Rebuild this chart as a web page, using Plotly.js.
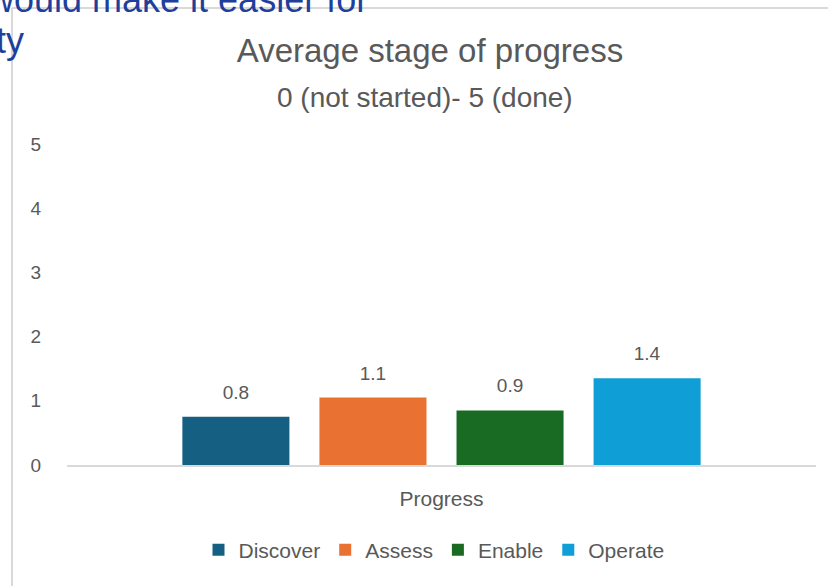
<!DOCTYPE html>
<html>
<head>
<meta charset="utf-8">
<script src="https://cdn.plot.ly/plotly-3.0.1.min.js"></script>
<style>
  html, body { margin: 0; padding: 0; background: #ffffff; }
  #chart { width: 828px; height: 586px; }
</style>
</head>
<body>
<div id="chart"></div>
<script>
// ---- data ----
const category = ["Progress"];
const seriesNames = ["Discover", "Assess", "Enable", "Operate"];
const seriesValues = [0.75, 1.05, 0.85, 1.35];
const seriesLabels = ["0.8", "1.1", "0.9", "1.4"];
const seriesColors = ["#156082", "#E97132", "#196B24", "#0F9ED5"];
const yTicks = [0, 1, 2, 3, 4, 5];

const chartTitle = "Average stage of progress";
const chartSubtitle = "0 (not started)- 5 (done)";
const behindText1 = "would make it easier for";
const behindText2 = "ty";

const FONT = "'Liberation Sans', Arial, sans-serif";
const GREY = "#595959";
const BLUE = "#1f3f9c";

const traces = seriesNames.map((name, i) => ({
  type: "bar",
  name: name,
  x: category,
  y: [seriesValues[i]],
  text: [seriesLabels[i]],
  texttemplate: "<span style='font-size:19px'>%{text}</span><br> ",
  textposition: "outside",
  textfont: { family: FONT, size: 10, color: GREY },
  cliponaxis: false,
  marker: { color: seriesColors[i] },
  hoverinfo: "skip"
}));

const layout = {
  width: 828,
  height: 586,
  margin: { l: 67, r: 12, t: 144, b: 121 },
  paper_bgcolor: "#ffffff",
  plot_bgcolor: "#ffffff",
  font: { family: FONT, color: GREY },
  barmode: "group",
  bargap: 0.268,
  bargroupgap: 0.219,
  showlegend: true,
  title: {
    text: chartTitle,
    font: { family: FONT, size: 33, color: GREY },
    xref: "paper", x: 0.4846, xanchor: "center",
    yref: "container", y: 0.9147, yanchor: "middle"
  },
  xaxis: {
    type: "category",
    showgrid: false,
    zeroline: false,
    showline: true,
    linecolor: "#d9d9d9",
    linewidth: 1.5,
    ticks: "outside",
    ticklen: 14,
    tickcolor: "rgba(0,0,0,0)",
    tickfont: { family: FONT, size: 21, color: GREY },
    fixedrange: true
  },
  yaxis: {
    range: [0, 5],
    tickvals: yTicks,
    showgrid: false,
    zeroline: false,
    showline: false,
    ticks: "outside",
    ticklen: 21,
    tickcolor: "rgba(0,0,0,0)",
    tickfont: { family: FONT, size: 19, color: GREY },
    fixedrange: true
  },
  legend: {
    orientation: "h",
    xref: "paper", x: 0.49, xanchor: "center",
    yref: "paper", y: -0.265, yanchor: "middle",
    font: { family: FONT, size: 21, color: GREY },
    itemclick: false, itemdoubleclick: false
  },
  annotations: [
    {
      text: chartSubtitle, showarrow: false,
      xref: "paper", yref: "paper", x: 0.478, y: 1.146,
      xanchor: "center", yanchor: "middle",
      font: { family: FONT, size: 28, color: GREY }
    },
    {
      text: behindText1, showarrow: false,
      xref: "paper", yref: "paper", x: 0.4045, y: 1.4517,
      xanchor: "right", yanchor: "middle",
      font: { family: FONT, size: 36, color: BLUE }
    },
    {
      text: behindText2, showarrow: false,
      xref: "paper", yref: "paper", x: -0.0547, y: 1.3209,
      xanchor: "right", yanchor: "middle",
      font: { family: FONT, size: 36, color: BLUE }
    }
  ],
  shapes: [
    {
      type: "line", xref: "paper", yref: "paper",
      x0: -0.0734, x1: -0.0734, y0: 1.4237, y1: -0.39,
      line: { color: "#d9d9d9", width: 2 }, layer: "below"
    },
    {
      type: "line", xref: "paper", yref: "paper",
      x0: -0.0734, x1: 1.03, y0: 1.4237, y1: 1.4237,
      line: { color: "#d9d9d9", width: 2 }, layer: "below"
    }
  ]
};

Plotly.newPlot("chart", traces, layout, { displayModeBar: false, staticPlot: true });
</script>
</body>
</html>
